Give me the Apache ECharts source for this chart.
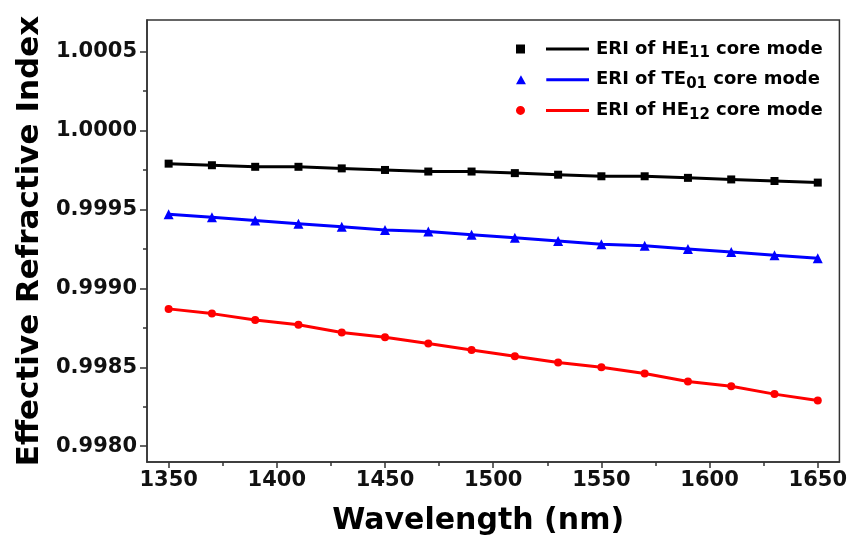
<!DOCTYPE html>
<html><head><meta charset="utf-8">
<script src="https://cdn.jsdelivr.net/npm/echarts@6/dist/echarts.min.js"></script>
<style>html,body{margin:0;padding:0;background:#fff}#c{width:850px;height:549px}</style>
</head><body><div id="c"></div>
<script>
const wavelengths = [1350,1370,1390,1410,1430,1450,1470,1490,1510,1530,1550,1570,1590,1610,1630,1650];
const he11 = [0.99979,0.99978,0.99977,0.99977,0.99976,0.99975,0.99974,0.99974,0.99973,0.99972,0.99971,0.99971,0.99970,0.99969,0.99968,0.99967];
const te01 = [0.99947,0.99945,0.99943,0.99941,0.99939,0.99937,0.99936,0.99934,0.99932,0.99930,0.99928,0.99927,0.99925,0.99923,0.99921,0.99919];
const he12 = [0.99887,0.99884,0.99880,0.99877,0.99872,0.99869,0.99865,0.99861,0.99857,0.99853,0.99850,0.99846,0.99841,0.99838,0.99833,0.99829];
const xTickLabels = [1350,1400,1450,1500,1550,1600,1650];
const xMinorTicks = [1375,1425,1475,1525,1575,1625];
const yTickLabels = [0.9980,0.9985,0.9990,0.9995,1.0000,1.0005];
const yMinorTicks = [0.99825,0.99875,0.99925,0.99975,1.00025];
const seriesNames = ['HE11','TE01','HE12'];
const legendLabels = {HE11:['ERI of HE','11',' core mode'], TE01:['ERI of TE','01',' core mode'], HE12:['ERI of HE','12',' core mode']};

const FONT = 'DejaVu Sans';
const AX = '#333';
const pair = arr => wavelengths.map((w,i)=>[w,arr[i]]);
const chart = echarts.init(document.getElementById('c'), null, {renderer:'canvas'});
const lineTail = ' M30,3h43v3h-43z';
chart.setOption({
  animation:false,
  backgroundColor:'#fff',
  grid:{left:147,right:10,top:20,bottom:87,show:true,borderColor:AX,borderWidth:1.5,backgroundColor:'transparent'},
  legend:{
    orient:'vertical', left:511, top:32, itemWidth:73, itemHeight:9, itemGap:6.7,
    data:[
      {name:'HE11', icon:'path://M0,0h9v9h-9z'+lineTail},
      {name:'TE01', icon:'path://M4.5,0L9.5,9H-0.5z'+lineTail},
      {name:'HE12', icon:'path://M0,4.5a4.5,4.5 0 1,0 9,0a4.5,4.5 0 1,0 -9,0z'+lineTail}
    ],
    formatter: n => { const p = legendLabels[n]; return '{t|'+p[0]+'}{s|'+p[1]+'}{t|'+p[2]+'}'; },
    textStyle:{ padding:[0,0,0,2], rich:{
      t:{fontFamily:FONT,fontWeight:'bold',fontSize:18,color:'#000',lineHeight:22,verticalAlign:'middle'},
      s:{fontFamily:FONT,fontWeight:'bold',fontSize:15,color:'#000',lineHeight:15,padding:[9,0,0,0],verticalAlign:'middle'}
    }}
  },
  xAxis:[{
    type:'value', min:1340, max:1660,
    name:'Wavelength (nm)', nameLocation:'middle', nameGap:44,
    nameTextStyle:{fontFamily:FONT,fontWeight:'bold',fontSize:30,color:'#000',padding:[0,30,0,0]},
    axisLine:{show:true,lineStyle:{color:AX,width:1.5}},
    axisTick:{show:true,customValues:xTickLabels,length:6,lineStyle:{color:AX,width:1.5}},
    axisLabel:{customValues:xTickLabels,formatter:v=>String(v),fontFamily:FONT,fontWeight:'bold',fontSize:21,color:'#111',margin:8},
    splitLine:{show:false}
  },{
    type:'value', min:1340, max:1660, position:'bottom',
    axisLine:{show:false}, axisLabel:{show:false}, splitLine:{show:false},
    axisTick:{show:true,customValues:xMinorTicks,length:4,lineStyle:{color:AX,width:1.5}}
  }],
  yAxis:[{
    type:'value', min:0.9979, max:1.0007,
    name:'Effective Refractive Index', nameLocation:'middle', nameGap:100,
    nameTextStyle:{fontFamily:FONT,fontWeight:'bold',fontSize:31,color:'#000'},
    axisLine:{show:true,lineStyle:{color:AX,width:1.5}},
    axisTick:{show:true,customValues:yTickLabels,length:7,lineStyle:{color:AX,width:1.5}},
    axisLabel:{customValues:yTickLabels,formatter:v=>Number(v).toFixed(4),fontFamily:FONT,fontWeight:'bold',fontSize:21,color:'#111',margin:10},
    splitLine:{show:false}
  },{
    type:'value', min:0.9979, max:1.0007, position:'left',
    axisLine:{show:false}, axisLabel:{show:false}, splitLine:{show:false},
    axisTick:{show:true,customValues:yMinorTicks,length:4,lineStyle:{color:AX,width:1.5}}
  }],
  series:[
    {name:'HE11',type:'line',data:pair(he11),symbol:'rect',symbolSize:8,color:'#000000',lineStyle:{width:3},itemStyle:{color:'#000000'}},
    {name:'TE01',type:'line',data:pair(te01),symbol:'triangle',symbolSize:10,color:'#0000ff',lineStyle:{width:3},itemStyle:{color:'#0000ff'}},
    {name:'HE12',type:'line',data:pair(he12),symbol:'circle',symbolSize:8,color:'#ff0000',lineStyle:{width:3},itemStyle:{color:'#ff0000'}}
  ]
});
</script></body></html>
